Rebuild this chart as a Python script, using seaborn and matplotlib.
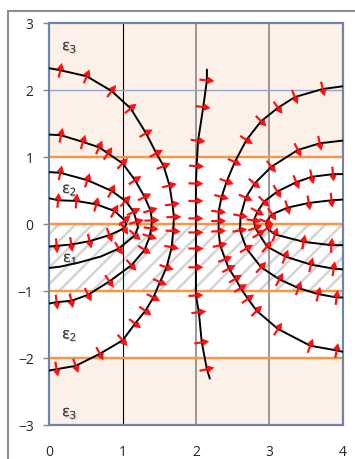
import numpy as np
import seaborn as sns
import matplotlib.pyplot as plt
import matplotlib.patheffects as pe
from matplotlib.patches import Rectangle
from matplotlib.lines import Line2D

# layers: (y bottom, y top, label)
layer_y0 = [1, 0, -1, -2, -3]
layer_y1 = [3, 1, 0, -1, -2]
layer_lbl = ['ε$_3$', 'ε$_2$', 'ε$_1$', 'ε$_2$', 'ε$_3$']
layer_lbl_y = [2.64, 0.51, -0.52, -1.66, -2.82]

# field lines, each read top -> bottom
c1_x = [0, 0.15, 0.51, 0.85, 1.11, 1.32, 1.46, 1.56, 1.64, 1.68, 1.70, 1.69, 1.67, 1.60, 1.51, 1.42, 1.31, 1.17, 1.00, 0.69, 0.36, 0.10, 0]
c1_y = [2.33, 2.30, 2.21, 1.99, 1.73, 1.36, 1.06, 0.87, 0.58, 0.30, 0.11, -0.10, -0.34, -0.64, -0.86, -1.09, -1.29, -1.48, -1.73, -1.93, -2.11, -2.16, -2.18]
c2_x = [0, 0.16, 0.46, 0.68, 0.80, 1.00, 1.17, 1.30, 1.38, 1.40, 1.39, 1.37, 1.30, 1.12, 0.82, 0.53, 0.30, 0.10, 0]
c2_y = [1.34, 1.33, 1.23, 1.15, 1.06, 0.91, 0.66, 0.41, 0.21, 0.06, -0.06, -0.18, -0.38, -0.61, -0.85, -1.05, -1.14, -1.16, -1.18]
c3_x = [0, 0.15, 0.52, 0.85, 1.04, 1.15, 1.19, 1.21, 1.17, 0.95, 0.70, 0.40, 0.15, 0]
c3_y = [0.78, 0.77, 0.66, 0.50, 0.35, 0.19, 0.04, -0.04, -0.16, -0.36, -0.48, -0.57, -0.63, -0.65]
c3_plain = [0, 7, 10, 11, 12, 13]
c4_x = [0, 0.12, 0.37, 0.64, 0.89, 1.03, 1.05, 1.02, 0.82, 0.55, 0.30, 0.10, 0]
c4_y = [0.39, 0.36, 0.35, 0.30, 0.20, 0.06, 0.0, -0.06, -0.16, -0.25, -0.30, -0.32, -0.33]
c4_plain = [0, 6, 12]
m_x = [2.15, 2.15, 2.10, 2.03, 2.01, 2.00, 2.00, 2.00, 2.00, 2.00, 2.00, 2.00, 2.04, 2.08, 2.15, 2.19]
m_y = [2.31, 2.15, 1.75, 1.25, 0.87, 0.61, 0.35, 0.09, -0.12, -0.36, -0.64, -1.06, -1.31, -1.76, -2.16, -2.30]
r1_x = [4.0, 3.73, 3.35, 3.12, 2.89, 2.69, 2.53, 2.42, 2.35, 2.31, 2.31, 2.31, 2.33, 2.40, 2.45, 2.54, 2.61, 2.71, 2.83, 3.12, 3.56, 3.92, 4.0]
r1_y = [2.06, 2.02, 1.90, 1.74, 1.54, 1.26, 0.93, 0.64, 0.41, 0.19, 0.05, -0.10, -0.31, -0.52, -0.66, -0.81, -0.95, -1.11, -1.29, -1.56, -1.81, -1.88, -1.90]
r2_x = [4.0, 3.69, 3.39, 3.03, 2.80, 2.68, 2.61, 2.60, 2.69, 2.89, 3.14, 3.40, 3.67, 3.92, 4.0]
r2_y = [1.25, 1.21, 1.11, 0.86, 0.61, 0.40, 0.13, -0.09, -0.36, -0.64, -0.82, -0.95, -1.04, -1.09, -1.09]
r3_x = [4.0, 3.87, 3.58, 3.37, 3.11, 2.93, 2.84, 2.79, 2.81, 2.86, 2.97, 3.22, 3.57, 3.88, 4.0]
r3_y = [0.75, 0.75, 0.71, 0.63, 0.49, 0.34, 0.19, 0.06, -0.05, -0.14, -0.33, -0.48, -0.60, -0.66, -0.67]
r4_x = [4.0, 3.85, 3.54, 3.25, 3.04, 2.96, 2.97, 3.08, 3.47, 3.85, 4.0]
r4_y = [0.37, 0.36, 0.32, 0.25, 0.15, 0.04, -0.06, -0.15, -0.26, -0.31, -0.31]

curves = [(c1_x, c1_y, None), (c2_x, c2_y, None), (c3_x, c3_y, c3_plain),
          (c4_x, c4_y, c4_plain), (m_x, m_y, [0, 15]), (r1_x, r1_y, None),
          (r2_x, r2_y, None), (r3_x, r3_y, None), (r4_x, r4_y, None)]

sns.set_style('white')
plt.rcParams['font.family'] = ['Open Sans', 'DejaVu Sans']
plt.rcParams['mathtext.fontset'] = 'custom'
plt.rcParams['mathtext.rm'] = 'Open Sans'
plt.rcParams['hatch.linewidth'] = 1.8

fig = plt.figure(figsize=(3.55, 4.59), dpi=100)
ax = fig.add_axes([0.1389, 0.073, 0.8259, 0.8762])
ax.set_facecolor('white')

orange = '#F79646'
peach = '#FCF1E9'
for y0, y1, lbl, ly in zip(layer_y0, layer_y1, layer_lbl, layer_lbl_y):
    h = y1 - y0
    if lbl.endswith('3$'):
        ax.add_patch(Rectangle((0, y0), 4, h, facecolor=peach, edgecolor='none', zorder=0))
    elif lbl.endswith('1$'):
        ax.add_patch(Rectangle((0, y0), 4, h, facecolor='white', edgecolor='#D4D4D4',
                               hatch='//', lw=0, zorder=0))
    else:
        ax.add_patch(Rectangle((0, y0), 4, h, facecolor='white', edgecolor='none', zorder=0))
    if not lbl.endswith('2$'):
        ax.add_patch(Rectangle((0, y0), 4, h, fill=False, edgecolor=orange, lw=1.6,
                               zorder=1.5, clip_on=False))
    else:
        for yy in (y0, y1):
            ax.plot([0, 4], [yy, yy], color=orange, lw=1.6, zorder=1.5, clip_on=False)
    ax.text(0.28, ly, lbl, fontsize=11, color='#404040', ha='center', va='center', zorder=2,
            path_effects=[pe.withSimplePatchShadow(offset=(1, -1), shadow_rgbFace='#999999', alpha=0.4),
                          pe.Normal()])

# grid
ax.axvline(1, color='black', lw=0.8, zorder=1)
for gx in (2, 3):
    ax.axvline(gx, color='#888888', lw=1.2, zorder=1)
ax.axhline(2, color='#95A5C6', lw=1.0, zorder=1)

sx, sy = 73.3, 67.2
for cx, cy, plain in curves:
    cx = np.array(cx, float)
    cy = np.array(cy, float)
    sns.lineplot(x=cx, y=cy, sort=False, estimator=None, color='black', lw=1.4, ax=ax, zorder=3)
    tx = np.gradient(cx * sx)
    ty = np.gradient(cy * sy)
    n = np.hypot(tx, ty)
    u, v = -ty / n, tx / n
    keep = np.ones(len(cx), bool)
    if plain is None:
        plain = [0, len(cx) - 1]
    keep[plain] = False
    ax.quiver(cx[keep], cy[keep], u[keep], v[keep], color='#FF1010', angles='uv',
              scale_units='dots', scale=1 / 15, units='dots', width=2.2,
              headwidth=3.8, headlength=3.4, headaxislength=3.0, pivot='middle', zorder=4)

ax.set_xlim(0, 4)
ax.set_ylim(-3, 3)
ax.set_xticks(range(0, 5))
ax.set_yticks(range(-3, 4))
ax.tick_params(axis='x', length=0, pad=14, labelsize=10, labelcolor='#262626')
ax.tick_params(axis='y', length=4.3, width=1, color='#888888', pad=7, labelsize=10,
               labelcolor='#262626', left=True)
for s in ax.spines.values():
    s.set_color('#6A85B0')
    s.set_linewidth(1.5)

# chart area border (cropped)
fig.add_artist(Line2D([8 / 355, 8 / 355], [0, 1 - 11 / 459], color='#8C8C8C', lw=1.5))
fig.add_artist(Line2D([8 / 355, 1], [1 - 11 / 459, 1 - 11 / 459], color='#8C8C8C', lw=1.5))

fig.savefig('out.png', dpi=100)
